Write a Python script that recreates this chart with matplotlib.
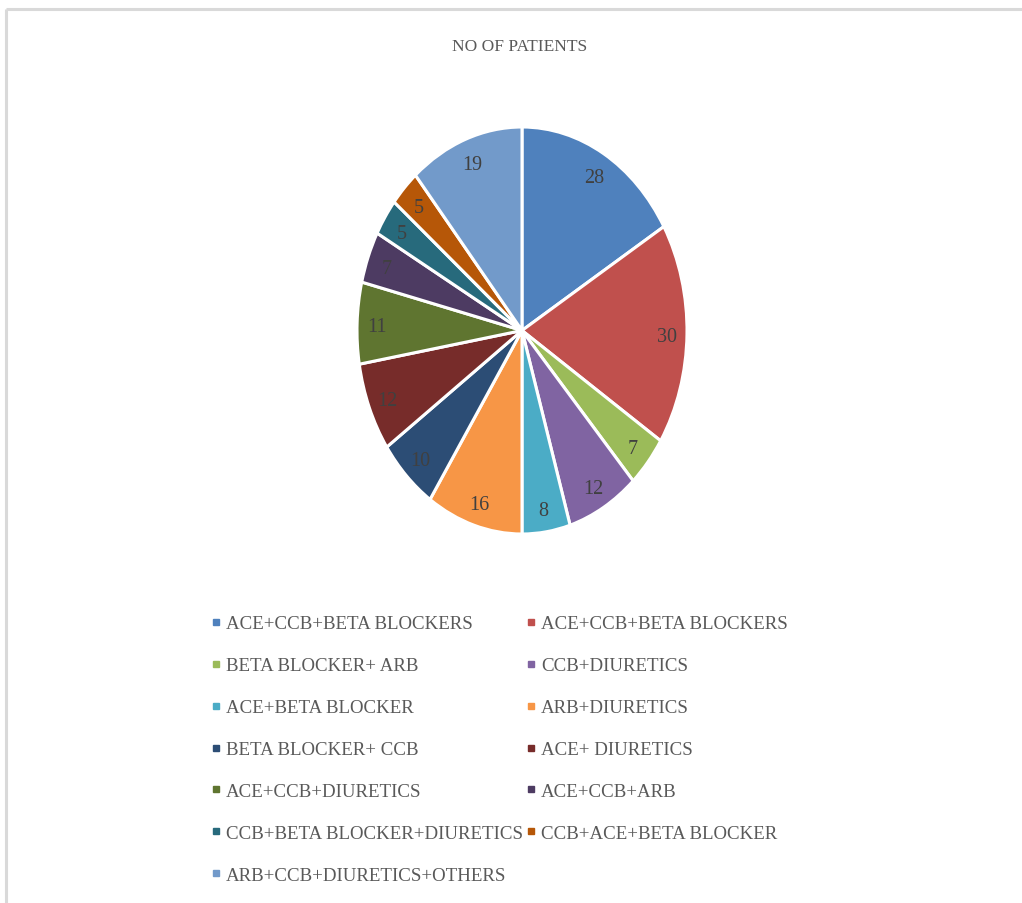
import matplotlib
matplotlib.use("Agg")
import matplotlib.pyplot as plt
from matplotlib.lines import Line2D
import numpy as np

plt.rcParams['font.family'] = ['Liberation Serif', 'DejaVu Serif']

title = "NO OF PATIENTS"
categories = [
    "ACE+CCB+BETA BLOCKERS",
    "ACE+CCB+BETA BLOCKERS",
    "BETA BLOCKER+ ARB",
    "CCB+DIURETICS",
    "ACE+BETA BLOCKER",
    "ARB+DIURETICS",
    "BETA BLOCKER+ CCB",
    "ACE+ DIURETICS",
    "ACE+CCB+DIURETICS",
    "ACE+CCB+ARB",
    "CCB+BETA BLOCKER+DIURETICS",
    "CCB+ACE+BETA BLOCKER",
    "ARB+CCB+DIURETICS+OTHERS",
]
patients = [28, 30, 7, 12, 8, 16, 10, 12, 11, 7, 5, 5, 19]
colors = ["#4F81BD", "#C0504D", "#9BBB59", "#8064A2", "#4BACC6", "#F79646",
          "#2C4D75", "#772C2A", "#5F7530", "#4D3B62", "#276A7C", "#B65708",
          "#729ACA"]

W, H = 1022, 904
fig = plt.figure(figsize=(W / 100, H / 100), dpi=100)
fig.patch.set_facecolor("white")

# chart area frame (top and left edges)
frame = fig.add_axes([0, 0, 1, 1])
frame.set_xlim(0, W)
frame.set_ylim(H, 0)
frame.axis("off")
frame.plot([6, 6], [10, H], color="#d9d9d9", lw=2.2, solid_capstyle="butt")
frame.plot([6, W], [10, 10], color="#d9d9d9", lw=2.2, solid_capstyle="butt")

fig.text(520 / W, 1 - 47 / H, title, ha="center", va="center",
         fontsize=12.5, color="#595959")

# pie: drawn in a box taller than wide, giving an elliptical pie
left, right, top, bottom = 357, 687, 128, 535
ax = fig.add_axes([left / W, 1 - bottom / H, (right - left) / W, (bottom - top) / H])
wedges, _ = ax.pie(patients, colors=colors, startangle=90, counterclock=False,
                   radius=1.0,
                   wedgeprops=dict(edgecolor="white", linewidth=2.2))
ax.set_aspect("auto")
ax.set_xlim(-1, 1)
ax.set_ylim(-1, 1)

total = sum(patients)
cum = 0
for v in patients:
    mid = 90 - 360 * (cum + v / 2) / total
    cum += v
    r = 0.88
    ax.text(r * np.cos(np.radians(mid)), r * np.sin(np.radians(mid)), str(v),
            ha="center", va="center_baseline", fontsize=14.5, color="#404040")

# legend: entries run across two columns, row by row
order = list(range(0, len(categories), 2)) + list(range(1, len(categories), 2))
handles = [Line2D([], [], linestyle="none", marker="s", markersize=4.5,
                  markerfacecolor=colors[i], markeredgecolor=colors[i])
           for i in order]
labels = [categories[i] for i in order]
fig.legend(handles, labels, ncols=2, loc="upper left",
           bbox_to_anchor=(212 / W, 1 - 616 / H), frameon=False,
           fontsize=13.6, labelcolor="#595959", handlelength=0.45,
           handletextpad=0.3, columnspacing=0.2, labelspacing=1.31,
           borderpad=0, borderaxespad=0)

fig.savefig("out.png", dpi=100, facecolor="white")
